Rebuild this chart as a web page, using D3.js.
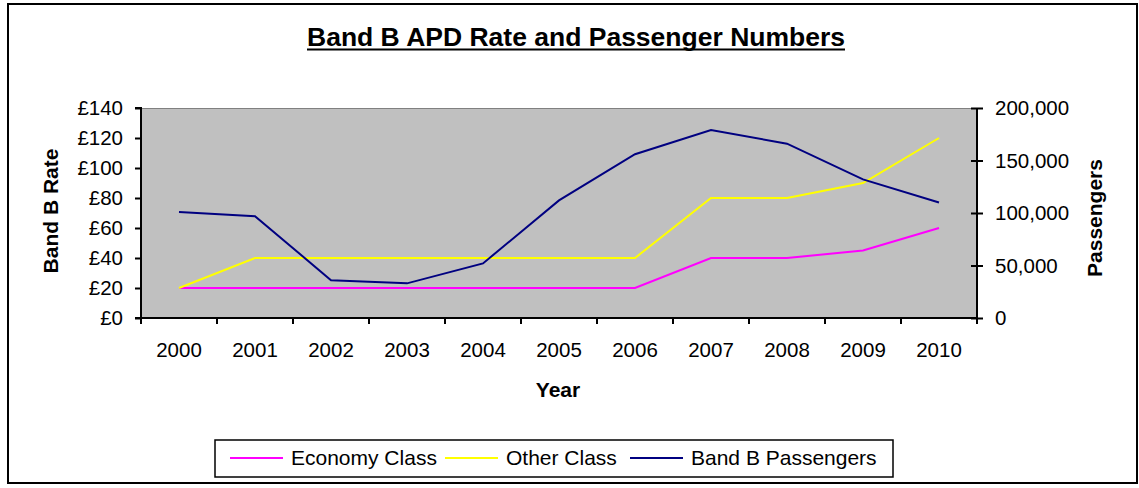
<!DOCTYPE html>
<html>
<head>
<meta charset="utf-8">
<script src="https://cdn.jsdelivr.net/npm/d3@7"></script>
<style>
  html, body { margin: 0; padding: 0; background: #fff; }
  svg { display: block; font-family: "Liberation Sans", Arial, sans-serif; }
</style>
</head>
<body>
<svg id="chart" width="1139" height="488"></svg>
<script>
// Band B air passenger duty rates (£) and passenger numbers, 2000–2010
const years = ["2000","2001","2002","2003","2004","2005","2006","2007","2008","2009","2010"];
const economyRate = [20, 20, 20, 20, 20, 20, 20, 40, 40, 45, 60];
const otherRate   = [20, 40, 40, 40, 40, 40, 40, 80, 80, 90, 120];
const passengers  = [101000, 97000, 36000, 33000, 52000, 112000, 156000, 179000, 166000, 132000, 110000];
const rateTicks = [0, 20, 40, 60, 80, 100, 120, 140];
const passengerTicks = [0, 50000, 100000, 150000, 200000];

const svg = d3.select("#chart");
const plot = { left: 141, right: 977, top: 108, bottom: 318 };
const FONT = 20.5;

// outer frame
svg.append("rect")
  .attr("x", 8).attr("y", 4).attr("width", 1129).attr("height", 479)
  .attr("fill", "#fff").attr("stroke", "#000").attr("stroke-width", 2);

const x = d3.scaleBand().domain(years).range([plot.left, plot.right]);
const yL = d3.scaleLinear().domain([0, 140]).range([plot.bottom, plot.top]);
const yR = d3.scaleLinear().domain([0, 200000]).range([plot.bottom, plot.top]);

// plot area
svg.append("rect")
  .attr("x", plot.left).attr("y", plot.top)
  .attr("width", plot.right - plot.left).attr("height", plot.bottom - plot.top)
  .attr("fill", "#C0C0C0");
svg.append("line")
  .attr("x1", plot.left).attr("x2", plot.right)
  .attr("y1", plot.top + 0.5).attr("y2", plot.top + 0.5)
  .attr("stroke", "#808080").attr("stroke-width", 1);

const fmtRate = d => "£" + d;
const fmtPass = d3.format(",");

// left axis
const gL = svg.append("g").attr("transform", `translate(${plot.left},0)`)
  .call(d3.axisLeft(yL).tickValues(rateTicks).tickFormat(fmtRate).tickSize(6).tickPadding(12));
// right axis
const gR = svg.append("g").attr("transform", `translate(${plot.right},0)`)
  .call(d3.axisRight(yR).tickValues(passengerTicks).tickFormat(fmtPass).tickSize(6).tickPadding(12));
gR.selectAll(".tick line").attr("x1", -6);
// bottom axis: ticks at category boundaries
const gB = svg.append("g").attr("transform", `translate(0,${plot.bottom})`)
  .call(d3.axisBottom(x).tickSize(0).tickPadding(24));
const bounds = years.map(y => x(y)).concat([plot.right]);
gB.selectAll(".boundary").data(bounds).enter().append("line")
  .attr("x1", d => d).attr("x2", d => d).attr("y1", 0).attr("y2", 6)
  .attr("stroke", "#000").attr("stroke-width", 2);

[gL, gR, gB].forEach(g => {
  g.select(".domain").attr("stroke", "#000").attr("stroke-width", 2);
  g.selectAll(".tick line").attr("stroke", "#000").attr("stroke-width", 2);
  g.selectAll(".tick text").attr("font-size", FONT).attr("fill", "#000")
    .attr("font-family", "'Liberation Sans', Arial, sans-serif");
});
gL.select(".domain").attr("d", `M-6,${plot.top}H0V${plot.bottom}H-6`);
gR.select(".domain").attr("d", `M0,${plot.top}V${plot.bottom}`);
gB.select(".domain").attr("d", `M${plot.left - 6},0H${plot.right}`);

// series lines
const cx = d => x(d) + x.bandwidth() / 2;
const lineL = d3.line().x(d => cx(d.year)).y(d => yL(d.v));
const lineR = d3.line().x(d => cx(d.year)).y(d => yR(d.v));
const series = [
  { name: "Economy Class", color: "#FF00FF", values: economyRate, line: lineL },
  { name: "Other Class", color: "#FFFF00", values: otherRate, line: lineL },
  { name: "Band B Passengers", color: "#000080", values: passengers, line: lineR }
];
series.forEach(s => {
  svg.append("path")
    .datum(years.map((y, i) => ({ year: y, v: s.values[i] })))
    .attr("d", s.line)
    .attr("fill", "none").attr("stroke", s.color).attr("stroke-width", 2)
    .attr("stroke-linejoin", "miter");
});

// titles
const title = svg.append("text")
  .attr("x", 576).attr("y", 46).attr("text-anchor", "middle")
  .attr("font-size", 26.5).attr("font-weight", "bold").attr("fill", "#000")
  .text("Band B APD Rate and Passenger Numbers");
const tb = title.node().getBBox();
svg.append("line")
  .attr("x1", tb.x).attr("x2", tb.x + tb.width)
  .attr("y1", 49.5).attr("y2", 49.5)
  .attr("stroke", "#000").attr("stroke-width", 2);

svg.append("text")
  .attr("transform", "translate(58,211) rotate(-90)")
  .attr("text-anchor", "middle").attr("font-size", 21).attr("font-weight", "bold")
  .text("Band B Rate");
svg.append("text")
  .attr("transform", "translate(1102,218) rotate(-90)")
  .attr("text-anchor", "middle").attr("font-size", 21).attr("font-weight", "bold")
  .text("Passengers");
svg.append("text")
  .attr("x", 558).attr("y", 397)
  .attr("text-anchor", "middle").attr("font-size", 21).attr("font-weight", "bold")
  .text("Year");

// legend
const legend = svg.append("g");
legend.append("rect")
  .attr("x", 215).attr("y", 440).attr("width", 678).attr("height", 37)
  .attr("fill", "#fff").attr("stroke", "#000").attr("stroke-width", 1.5);
const legendX = [230, 445, 630];
series.forEach((s, i) => {
  const g = legend.append("g").attr("transform", `translate(${legendX[i]},458)`);
  g.append("line").attr("x1", 0).attr("x2", 53).attr("stroke", s.color).attr("stroke-width", 2);
  g.append("text").attr("x", 61).attr("y", 7).attr("font-size", 21).text(s.name);
});
</script>
</body>
</html>
